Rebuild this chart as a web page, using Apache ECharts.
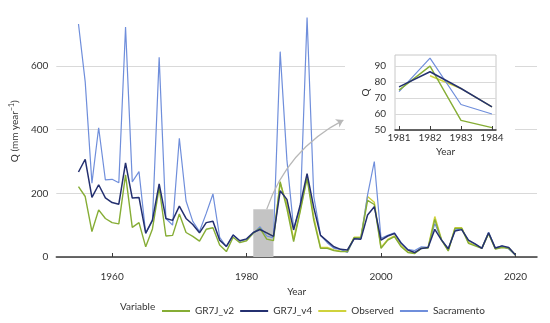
<!DOCTYPE html>
<html><head><meta charset="utf-8">
<script src="https://cdn.jsdelivr.net/npm/echarts@6/dist/echarts.min.js"></script>
<style>html,body{margin:0;padding:0;background:#fff}#c{width:550px;height:323px}</style>
</head><body><div id="c"></div>
<script>
const years = [1955,1956,1957,1958,1959,1960,1961,1962,1963,1964,1965,1966,1967,1968,1969,1970,1971,1972,1973,1974,1975,1976,1977,1978,1979,1980,1981,1982,1983,1984,1985,1986,1987,1988,1989,1990,1991,1992,1993,1994,1995,1996,1997,1998,1999,2000,2001,2002,2003,2004,2005,2006,2007,2008,2009,2010,2011,2012,2013,2014,2015,2016,2017,2018,2019,2020];
const gr7jV2 = [221,190,80,148,121,108,104,258,93,108,32,88,218,66,68,135,77,65,50,87,92,38,17,62,45,51,75,90,56,51.5,237,152,48,145,247,115,27,27,20,17,17,61,60,178,165,27,53,64,32,14,11,27,28,118,53,19,90,90,43,35,27,73,25,30,27,6];
const gr7jV4 = [267,307,187,227,186,171,166,296,185,187,75,116,230,121,115,160,121,102,76,108,112,53,33,69,51,57,77,86.5,76,64.5,208,181,85,165,262,155,68,50,32,24,22,57,56,132,158,53,66,74,43,22,14,27,30,87,53,26,82,86,53,41,27,76,28,35,30,6];
const observed = [null,null,null,null,null,null,null,null,null,null,null,null,null,null,null,null,null,null,null,null,null,null,null,null,null,null,null,84,76,64.5,232,165,55,150,255,125,30,30,22,18,18,62,62,190,172,30,55,66,35,16,12,28,30,127,55,20,92,92,46,37,28,75,26,32,28,6];
const sacramento = [732,550,232,406,242,244,233,722,236,268,74,114,627,121,100,373,176,112,80,137,198,62,32,70,50,55,74,95,66,60,645,305,90,158,752,190,69,45,27,24,14,59,58,195,300,59,68,76,45,24,20,32,30,105,55,25,85,88,52,40,28,78,28,35,25,6];
const seriesNames = ['GR7J_v2','GR7J_v4','Observed','Sacramento'];
const drawOrder = ['Observed','Sacramento','GR7J_v2','GR7J_v4'];
const xTicks = [1960,1980,2000,2020];
const insetTicks = [1981,1982,1983,1984];
const zoomBox = {x0:1981, x1:1984, y0:0, y1:150};
const arrowFrom = [1983,150], arrowTo = [1994.4,430];

const FONT = 'Lato, "Liberation Sans", sans-serif';
const TXT = '#333';
const colors = {GR7J_v2:'#86ad35', GR7J_v4:'#243070', Observed:'#cfd23c', Sacramento:'#6f8edb'};
const widths = {GR7J_v2:1.4, GR7J_v4:1.5, Observed:1.4, Sacramento:1.2};
const values = {GR7J_v2:gr7jV2, GR7J_v4:gr7jV4, Observed:observed, Sacramento:sacramento};
const plain = v => String(v);

function pairs(arr, lo, hi){
  return years.map((y,i)=>[y,arr[i]]).filter(d=>d[0]>=lo && d[0]<=hi);
}
const series = [];
drawOrder.forEach((n,k)=>{
  const s = {name:n, type:'line', xAxisIndex:0, yAxisIndex:0, data:pairs(values[n],1900,2100),
    symbol:'none', connectNulls:false, lineStyle:{color:colors[n], width:widths[n]}, itemStyle:{color:colors[n]}, z:2};
  if(k===0){
    s.markArea = {silent:true, itemStyle:{color:'#c4c4c4'},
      data:[[{xAxis:zoomBox.x0, yAxis:zoomBox.y0},{xAxis:zoomBox.x1, yAxis:zoomBox.y1}]]};
  }
  series.push(s);
});
drawOrder.forEach(n=>{
  series.push({name:n, type:'line', xAxisIndex:1, yAxisIndex:1, data:pairs(values[n],1981,1984),
    symbol:'none', lineStyle:{color:colors[n], width:widths[n]}, itemStyle:{color:colors[n]}, z:6});
});
series.push({type:'lines', coordinateSystem:'cartesian2d', xAxisIndex:0, yAxisIndex:0, silent:true,
  symbol:['none','arrow'], symbolSize:[0,7], z:3,
  lineStyle:{color:'#b8b8b8', width:1.2, curveness:0.2, opacity:1},
  data:[{coords:[arrowFrom, arrowTo]}]});

const chart = echarts.init(document.getElementById('c'), null, {renderer:'canvas'});
chart.setOption({
  animation:false,
  backgroundColor:'#fff',
  textStyle:{fontFamily:FONT},
  grid:[
    {left:53, right:13, top:5.5, bottom:66},
    {left:395, top:55, width:101, height:75, show:true, borderColor:'#c8c8c8', borderWidth:1, backgroundColor:'#fff', z:2}
  ],
  xAxis:[
    {type:'value', gridIndex:0, min:1951.7, max:2023.2, offset:11,
     name:'Year', nameLocation:'middle', nameGap:17, nameTextStyle:{fontSize:10, color:TXT, fontFamily:FONT},
     axisLine:{show:true, lineStyle:{color:'#3a3a3a', width:1.5}},
     axisTick:{show:true, inside:true, length:4, customValues:xTicks, lineStyle:{color:'#3a3a3a'}},
     axisLabel:{customValues:xTicks, formatter:plain, fontSize:10, color:TXT, margin:4, fontFamily:FONT},
     splitLine:{show:false}},
    {type:'value', gridIndex:1, min:1980.87, max:1984.13, z:3,
     name:'Year', nameLocation:'middle', nameGap:17, nameTextStyle:{fontSize:10, color:TXT, fontFamily:FONT},
     axisLine:{show:true, onZero:false, lineStyle:{color:'#3a3a3a', width:1.5}},
     axisTick:{show:true, inside:true, length:4, customValues:insetTicks, lineStyle:{color:'#3a3a3a'}},
     axisLabel:{customValues:insetTicks, formatter:plain, fontSize:10, color:TXT, margin:3, fontFamily:FONT},
     splitLine:{show:false}}
  ],
  yAxis:[
    {type:'value', gridIndex:0, min:0, max:790, interval:200,
     name:'{a|Q (mm year}{s|−1}{a|)}', nameLocation:'middle', nameGap:26,
     nameTextStyle:{color:TXT, fontFamily:FONT, rich:{a:{fontSize:10, color:TXT, fontFamily:FONT, lineHeight:14}, s:{fontSize:7, color:TXT, fontFamily:FONT, lineHeight:14, verticalAlign:'top'}}},
     axisLine:{show:false}, axisTick:{show:false},
     axisLabel:{fontSize:10, color:TXT, margin:8, showMaxLabel:false, formatter:plain, fontFamily:FONT},
     splitLine:{show:true, showMaxLine:false, lineStyle:{color:'#d9d9d9', width:1}}},
    {type:'value', gridIndex:1, min:50, max:97, interval:10, z:3,
     name:'Q', nameLocation:'middle', nameGap:22, nameTextStyle:{fontSize:10, color:TXT, fontFamily:FONT},
     axisLine:{show:false}, axisTick:{show:false},
     axisLabel:{fontSize:10, color:TXT, margin:9, showMaxLabel:false, formatter:plain, fontFamily:FONT},
     splitLine:{show:true, showMaxLine:false, lineStyle:{color:'#d9d9d9', width:1}}}
  ],
  legend:{data:seriesNames, left:157, top:301, icon:'rect', itemWidth:28, itemHeight:2, itemGap:6,
    textStyle:{fontSize:10, color:TXT, fontFamily:FONT}},
  graphic:[
    {type:'rect', shape:{x:345, y:42, width:170, height:120}, style:{fill:'#fff'}, z:1, silent:true},
    {type:'text', x:120, y:307, style:{text:'Variable', fill:TXT, font:'10px '+FONT, verticalAlign:'middle'}, z:5}
  ],
  series:series
});
</script></body></html>
